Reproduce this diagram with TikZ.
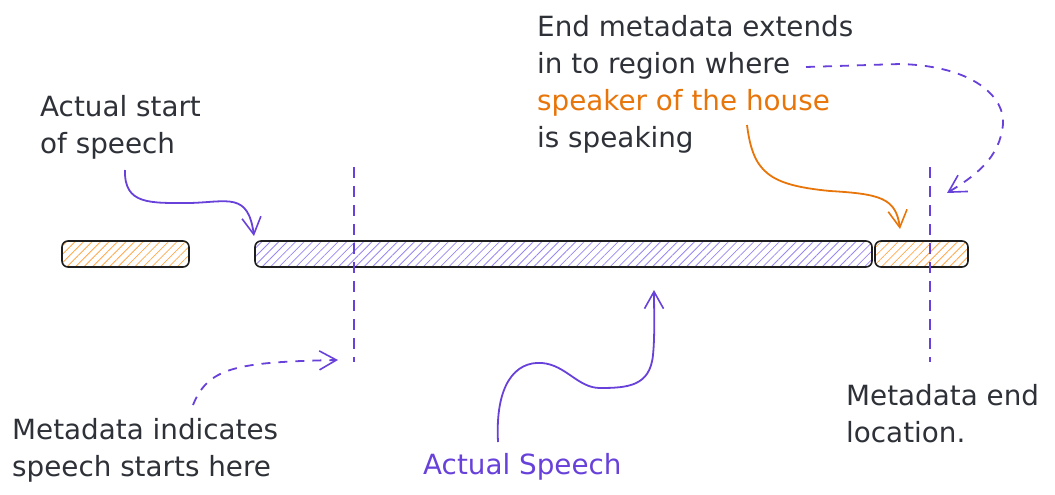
\documentclass[tikz,border=0pt]{standalone}
\usepackage{fontspec}
\setmainfont{DejaVu Sans}
\usetikzlibrary{arrows.meta,patterns.meta}
\definecolor{ink}{HTML}{2E3138}
\definecolor{vio}{HTML}{6741D9}
\definecolor{violight}{HTML}{9C86F0}
\definecolor{org}{HTML}{E8750A}
\definecolor{orglight}{HTML}{FFA94D}
\definecolor{barline}{HTML}{1E1E1E}
\tikzset{
  lbl/.style={anchor=base west, align=left, inner sep=0pt, text=ink,
    font=\fontsize{27.8}{37}\selectfont},
  bar/.style={draw=barline, line width=1.6pt, rounded corners=6pt,
    minimum height=26pt, inner sep=0pt},
  orangebar/.style={bar, pattern={Lines[angle=45,distance=6pt,line width=0.8pt]}, pattern color=orglight},
  violetbar/.style={bar, pattern={Lines[angle=45,distance=6pt,line width=0.8pt]}, pattern color=violight},
  arr/.style={line width=1.8pt, -{Straight Barb[length=17pt,width=19pt,line width=1.6pt]}},
  dasharr/.style={arr, dash pattern=on 9pt off 8pt},
  marker/.style={vio, line width=1.6pt, dash pattern=on 11pt off 8pt}
}
\begin{document}
\begin{tikzpicture}[x=1pt,y=-1pt]
\useasboundingbox (0,0) rectangle (1055,495);

% bars
\node[orangebar, minimum width=127pt] (leftbar) at (125.5,254) {};
\node[violetbar, minimum width=617pt] (speechbar) at (563.5,254) {};
\node[orangebar, minimum width=93pt] (rightbar) at (921.5,254) {};

% marker lines
\coordinate (m1top) at (354,167);
\coordinate (m1bot) at (354,362);
\coordinate (m2top) at (930,167);
\coordinate (m2bot) at (930,362);
\draw[marker] (m1top) -- (m1bot);
\draw[marker] (m2top) -- (m2bot);

% texts (anchored at the baseline of their last line)
\node[lbl] (actualstart) at (40,153) {Actual start\\of speech};
\node[lbl] (metastart) at (12,476) {Metadata indicates\\speech starts here};
\node[lbl, text=vio] (speech) at (423,474) {Actual Speech};
\node[lbl] (endmeta) at (537,147) {End metadata extends\\in to region where\\\textcolor{org}{speaker of the house}\\is speaking};
\node[lbl] (metaend) at (846,442) {Metadata end\\location.};

% connector endpoints
\coordinate (a1s) at (125,170);
\coordinate (a1e) at (254,236);
\coordinate (a2s) at (193,405);
\coordinate (a2e) at (338,360);
\coordinate (a3s) at (498,442);
\coordinate (a3e) at (654,290);
\coordinate (a4s) at (747,125);
\coordinate (a4e) at (900,229);
\coordinate (a5s) at (806,67);
\coordinate (a5e) at (947,193);

% connectors
\draw[arr, vio] (a1s) .. controls (124,205) and (150,203) .. (190,203)
  .. controls (228,202) and (248,192) .. (a1e);
\draw[dasharr, vio] (a2s) .. controls (208,368) and (235,362) .. (a2e);
\draw[arr, vio] (a3s) .. controls (495,385) and (515,361) .. (542,363)
  .. controls (566,365) and (578,388) .. (600,388)
  .. controls (628,388) and (650,386) .. (653,355)
  .. controls (655,335) and (654,310) .. (a3e);
\draw[arr, org] (a4s) .. controls (753,172) and (768,185) .. (830,191)
  .. controls (880,194) and (896,198) .. (a4e);
\draw[dasharr, vio] (a5s) -- (900,64) .. controls (975,66) and (1005,98) .. (1003,124)
  .. controls (1000,158) and (975,176) .. (a5e);
\end{tikzpicture}
\end{document}
